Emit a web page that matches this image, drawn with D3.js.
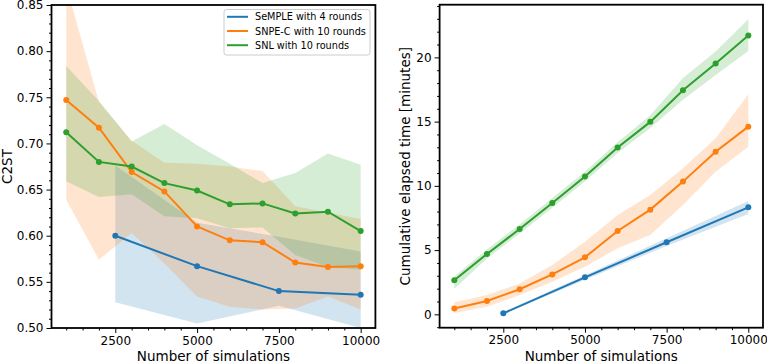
<!DOCTYPE html>
<html><head><meta charset="utf-8">
<script src="https://cdn.jsdelivr.net/npm/d3@7"></script>
<style>
body{margin:0;background:#fff;}
svg{display:block;font-family:"DejaVu Sans",sans-serif;}
</style>
</head><body>
<svg id="c" width="767" height="363"></svg>
<script>
// ---------- data ----------
const seriesNames = ["SeMPLE with 4 rounds", "SNPE-C with 10 rounds", "SNL with 10 rounds"];
const simsAll = [1000, 2000, 3000, 4000, 5000, 6000, 7000, 8000, 9000, 10000];
const simsSemple = [2500, 5000, 7500, 10000];

const c2stSemple   = [0.600, 0.567, 0.540, 0.536];
const c2stSempleLo = [0.528, 0.505, 0.524, 0.500];
const c2stSempleHi = [0.676, 0.614, 0.599, 0.583];
const c2stSnpe   = [0.747, 0.717, 0.669, 0.648, 0.610, 0.595, 0.593, 0.571, 0.566, 0.567];
const c2stSnpeLo = [0.639, 0.574, 0.603, 0.570, 0.534, 0.523, 0.520, 0.521, 0.534, 0.520];
const c2stSnpeHi = [0.871, 0.745, 0.703, 0.679, 0.678, 0.675, 0.670, 0.632, 0.625, 0.618];
const c2stSnl   = [0.712, 0.680, 0.675, 0.657, 0.649, 0.634, 0.635, 0.624, 0.626, 0.605];
const c2stSnlLo = [0.659, 0.642, 0.645, 0.621, 0.619, 0.608, 0.609, 0.579, 0.566, 0.563];
const c2stSnlHi = [0.784, 0.746, 0.702, 0.721, 0.698, 0.678, 0.657, 0.668, 0.689, 0.677];

const timeSemple   = [0.08, 2.88, 5.61, 8.33];
const timeSempleLo = [0.00, 2.70, 5.32, 7.80];
const timeSempleHi = [0.18, 3.05, 5.92, 8.82];
const timeSnpe   = [0.46, 1.04, 1.95, 3.11, 4.44, 6.49, 8.15, 10.33, 12.66, 14.61];
const timeSnpeLo = [0.10, 0.60, 1.50, 2.54, 3.71, 5.14, 6.18, 8.51, 11.10, 13.05];
const timeSnpeHi = [0.95, 1.50, 2.40, 3.84, 5.65, 7.73, 9.29, 11.37, 13.70, 17.13];
const timeSnl   = [2.65, 4.70, 6.64, 8.67, 10.72, 12.98, 14.98, 17.44, 19.52, 21.70];
const timeSnlLo = [2.00, 4.35, 6.30, 8.30, 10.35, 12.55, 14.50, 16.70, 18.63, 20.50];
const timeSnlHi = [2.95, 5.05, 7.00, 9.05, 11.10, 13.40, 15.50, 18.40, 20.45, 22.97];

const xTicks = [2500, 5000, 7500, 10000];
const c2stTicks = [0.50, 0.55, 0.60, 0.65, 0.70, 0.75, 0.80, 0.85];
const timeTicks = [0, 5, 10, 15, 20];
const colors = ["#1f77b4", "#ff7f0e", "#2ca02c"];

// ---------- drawing ----------
const svg = d3.select("#c");
const TICK_FS = 12, LABEL_FS = 13.5;

function panel(opts) {
  const {id, xr, yr, ydom, series, yTicks, yFmt, yMinorStep, ylabel, ylabelX, legend} = opts;
  const x = d3.scaleLinear().domain([550, 10450]).range(xr);
  const y = d3.scaleLinear().domain(ydom).range(yr);
  const g = svg.append("g");
  g.append("clipPath").attr("id", id).append("rect")
    .attr("x", xr[0]).attr("y", yr[1]).attr("width", xr[1]-xr[0]).attr("height", yr[0]-yr[1]);
  const plot = g.append("g").attr("clip-path", `url(#${id})`);

  series.forEach((s, i) => {
    const pts = s.xs.map((xv, k) => ({x: xv, y: s.v[k], lo: s.lo[k], hi: s.hi[k]}));
    plot.append("path").datum(pts)
      .attr("d", d3.area().x(d => x(d.x)).y0(d => y(d.lo)).y1(d => y(d.hi)))
      .attr("fill", colors[i]).attr("fill-opacity", 0.2).attr("stroke", "none");
  });
  series.forEach((s, i) => {
    const pts = s.xs.map((xv, k) => ({x: xv, y: s.v[k]}));
    plot.append("path").datum(pts)
      .attr("d", d3.line().x(d => x(d.x)).y(d => y(d.y)))
      .attr("fill", "none").attr("stroke", colors[i]).attr("stroke-width", 2);
    plot.selectAll(null).data(pts).enter().append("circle")
      .attr("cx", d => x(d.x)).attr("cy", d => y(d.y)).attr("r", 3)
      .attr("fill", colors[i]);
  });

  // x axis
  const xMinor = d3.range(1000, 10451, 500).filter(v => v % 2500 !== 0);
  g.append("g").attr("transform", `translate(0,${yr[0]})`)
    .call(d3.axisBottom(x).tickValues(xMinor).tickSize(2.5).tickFormat(""))
    .call(a => a.select(".domain").remove());
  const xa = g.append("g").attr("transform", `translate(0,${yr[0]})`)
    .call(d3.axisBottom(x).tickValues(xTicks).tickSize(5).tickPadding(3).tickFormat(d3.format("d")))
    .call(a => a.select(".domain").remove());
  xa.selectAll("text").attr("font-size", TICK_FS).attr("font-family", "DejaVu Sans").attr("fill", "#000");

  // y axis
  const yMinor = d3.range(Math.ceil(ydom[0]/yMinorStep)*yMinorStep, ydom[1] + 1e-9, yMinorStep)
    .filter(v => !yTicks.some(t => Math.abs(t - v) < 1e-9));
  g.append("g").attr("transform", `translate(${xr[0]},0)`)
    .call(d3.axisLeft(y).tickValues(yMinor).tickSize(2.5).tickFormat(""))
    .call(a => a.select(".domain").remove());
  const ya = g.append("g").attr("transform", `translate(${xr[0]},0)`)
    .call(d3.axisLeft(y).tickValues(yTicks).tickSize(5).tickPadding(3).tickFormat(yFmt))
    .call(a => a.select(".domain").remove());
  ya.selectAll("text").attr("font-size", TICK_FS).attr("font-family", "DejaVu Sans").attr("fill", "#000");
  g.selectAll(".tick line").attr("stroke", "#000").attr("stroke-width", 1);

  // frame
  g.append("rect").attr("x", xr[0]).attr("y", yr[1]).attr("width", xr[1]-xr[0]).attr("height", yr[0]-yr[1])
    .attr("fill", "none").attr("stroke", "#000").attr("stroke-width", 1.8);

  // labels
  g.append("text").attr("x", (xr[0]+xr[1])/2).attr("y", 361).attr("text-anchor", "middle")
    .attr("font-size", LABEL_FS).text("Number of simulations");
  g.append("text").attr("transform", `translate(${ylabelX},${(yr[0]+yr[1])/2}) rotate(-90)`)
    .attr("text-anchor", "middle").attr("font-size", LABEL_FS).text(ylabel);

  if (legend) {
    const L = g.append("g");
    L.append("rect").attr("x", 224).attr("y", 9.5).attr("width", 146).attr("height", 45.5).attr("rx", 2.5)
      .attr("fill", "#fff").attr("fill-opacity", 0.8).attr("stroke", "#cccccc").attr("stroke-width", 1);
    seriesNames.forEach((n, i) => {
      const yy = 16.8 + i * 14.2;
      L.append("line").attr("x1", 227).attr("x2", 248).attr("y1", yy).attr("y2", yy)
        .attr("stroke", colors[i]).attr("stroke-width", 2);
      L.append("text").attr("x", 255).attr("y", yy + 3.5).attr("font-size", 9.7).text(n);
    });
  }
}

panel({
  id: "clipL", xr: [51.5, 375.4], yr: [328, 5], ydom: [0.5, 0.85],
  series: [
    {xs: simsSemple, v: c2stSemple, lo: c2stSempleLo, hi: c2stSempleHi},
    {xs: simsAll, v: c2stSnpe, lo: c2stSnpeLo, hi: c2stSnpeHi},
    {xs: simsAll, v: c2stSnl, lo: c2stSnlLo, hi: c2stSnlHi}
  ],
  yTicks: c2stTicks, yFmt: d3.format(".2f"), yMinorStep: 0.01,
  ylabel: "C2ST", ylabelX: 11.5, legend: true
});
panel({
  id: "clipR", xr: [439.6, 763], yr: [327.7, 4.7], ydom: [-1.04, 24.1],
  series: [
    {xs: simsSemple, v: timeSemple, lo: timeSempleLo, hi: timeSempleHi},
    {xs: simsAll, v: timeSnpe, lo: timeSnpeLo, hi: timeSnpeHi},
    {xs: simsAll, v: timeSnl, lo: timeSnlLo, hi: timeSnlHi}
  ],
  yTicks: timeTicks, yFmt: d3.format("d"), yMinorStep: 1,
  ylabel: "Cumulative elapsed time [minutes]", ylabelX: 409.5, legend: false
});
</script>
</body></html>
